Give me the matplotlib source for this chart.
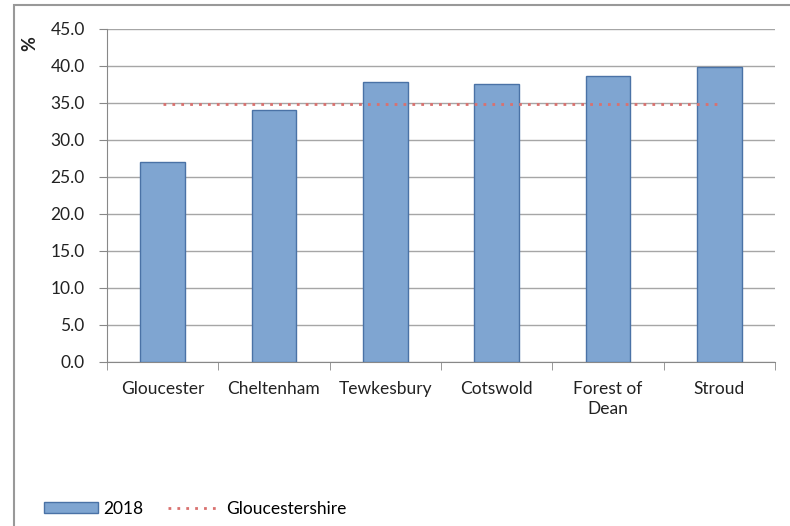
import matplotlib
matplotlib.use('Agg')
import matplotlib.pyplot as plt
from matplotlib.patches import Rectangle
from matplotlib.lines import Line2D
from matplotlib.patches import Patch
import numpy as np

districts = ['Gloucester', 'Cheltenham', 'Tewkesbury', 'Cotswold', 'Forest of\nDean', 'Stroud']
values_2018 = [27.0, 34.1, 37.9, 37.6, 38.6, 39.8]
county_value = [34.8] * 6

plt.rcParams['font.family'] = ['Lato', 'DejaVu Sans']
plt.rcParams['font.size'] = 12.5

fig = plt.figure(figsize=(7.9, 5.26), dpi=100)
ax = fig.add_axes([0.1354, 0.3118, 0.8456, 0.6331])

x = np.arange(len(districts))
ax.bar(x, values_2018, width=0.4, color='#7fa5d1', edgecolor='#4a72a6', linewidth=1, zorder=3)
ax.plot(x, county_value, color='#d9716f', linestyle=(0, (1, 2.2)), linewidth=2, zorder=4)

ax.set_xlim(-0.5, 5.5)
ax.set_ylim(0, 45)
ax.set_yticks(np.arange(0, 46, 5))
ax.set_yticklabels(['%.1f' % v for v in np.arange(0, 46, 5)], color='#222222')
ax.set_xticks(x)
ax.set_xticklabels(districts, color='#222222', linespacing=1.3)
ax.set_xticks(np.arange(-0.5, 6, 1), minor=True)
ax.tick_params(axis='x', which='major', length=0, pad=14)
ax.tick_params(axis='x', which='minor', length=6, color='#888888')
ax.tick_params(axis='y', length=6, color='#888888', pad=10)
ax.yaxis.grid(True, color='#a6a6a6', linewidth=1, zorder=0)
for s in ['top', 'right']:
    ax.spines[s].set_visible(False)
for s in ['left', 'bottom']:
    ax.spines[s].set_color('#888888')

fig.text(30 / 790, 1 - 44 / 526, '%', rotation=90, fontsize=13, fontweight='bold',
         ha='center', va='center', color='#222222')

# outer chart frame
fig.patches.append(Rectangle((14 / 790, -0.01), 1.0, 1 - 5 / 526 + 0.01, transform=fig.transFigure,
                             fill=False, edgecolor='#999999', linewidth=1.5))

handles = [Patch(facecolor='#7fa5d1', edgecolor='#4a72a6'),
           Line2D([0], [0], color='#d9716f', linestyle=(0, (1, 2.2)), linewidth=2)]
fig.legend(handles, ['2018', 'Gloucestershire'], loc='center left', bbox_to_anchor=(0.036, 1 - 509 / 526),
           ncol=2, frameon=False, handlelength=3.1, handleheight=0.6, columnspacing=1.4,
           handletextpad=0.3)

fig.savefig('out.png', dpi=100)
